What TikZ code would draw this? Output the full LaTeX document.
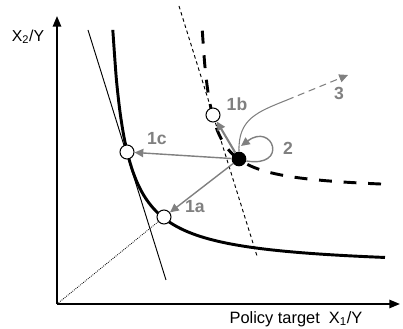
\documentclass[tikz,border=0pt]{standalone}
\usepackage{fontspec}
\setmainfont{Liberation Sans}
\usetikzlibrary{arrows.meta}
\definecolor{movegray}{gray}{0.5}
\tikzset{
  opendot/.style={circle, draw, fill=white, line width=0.9pt, minimum size=4.2mm, inner sep=0pt},
  fulldot/.style={circle, fill=black, minimum size=4.4mm, inner sep=0pt},
  movearrow/.style={draw=movegray, line width=1.2pt, -{Triangle[length=7.5pt,width=7pt]}},
  movelabel/.style={text=movegray, font=\fontsize{15}{17}\selectfont\bfseries}
}
\begin{document}
\begin{tikzpicture}[x=0.3mm, y=0.3mm, >={Triangle[length=9pt,width=7pt]}]
\useasboundingbox (-57,-25) rectangle (346,304);
\coordinate (O) at (0,0);
\coordinate (xend) at (343,0);
\coordinate (yend) at (0,288);
\draw[->, line width=1.6pt](O)--(xend);
\draw[->, line width=1.6pt](O)--(yend);
\node (ylab) at (-29,267) {\fontsize{13.5}{15}\selectfont X\textsubscript{2}/Y};
\node[inner sep=1pt] (xlab) at (239,-15) {\fontsize{14}{16}\selectfont Policy target\ \ X\textsubscript{1}/Y};
% curves and lines
\draw[domain=55.8:328, smooth, samples=80, line width=2.5pt]plot(\x, {35+3300/(\x-42)});
\draw[domain=145.3:328, smooth, samples=80, line width=2.5pt, dash pattern=on 11pt off 10pt]plot(\x, {112+1500/(\x-136)});
\draw[line width=0.8pt](31,274)--(109,24);
\draw[line width=0.8pt, dash pattern=on 3pt off 2.5pt](122,298)--(200,48);
% points
\node[opendot] (ptc) at (70,152) {};
\node[opendot] (pta) at (107,87) {};
\node[opendot] (ptb) at (156,189) {};
\node[fulldot] (ptE) at (182,145) {};
\draw[densely dotted, line width=0.7pt](O)--(pta);
% moves
\draw[movearrow](ptE)--(ptc);
\draw[movearrow](ptE)--(pta);
\draw[movearrow, line width=1.8pt](ptE)--(ptb);
\coordinate (loopend) at (184,158);
\draw[movearrow](ptE.-15) .. controls (232,136) and (216,182) .. (loopend);
\coordinate (bend3) at (230,204);
\coordinate (tip3) at (291,229);
\draw[draw=movegray, line width=0.9pt](ptE.north) .. controls (181,185) and (200,192) .. (bend3);
\draw[movearrow, line width=0.9pt, dash pattern=on 6pt off 4pt](bend3)--(tip3);
% labels
\node[movelabel] (lab1c) at (100,165) {1c};
\node[movelabel] (lab1a) at (138,97) {1a};
\node[movelabel] (lab1b) at (180,200) {1b};
\node[movelabel] (lab2) at (231,156) {2};
\node[movelabel] (lab3) at (282,211) {3};
\end{tikzpicture}
\end{document}
